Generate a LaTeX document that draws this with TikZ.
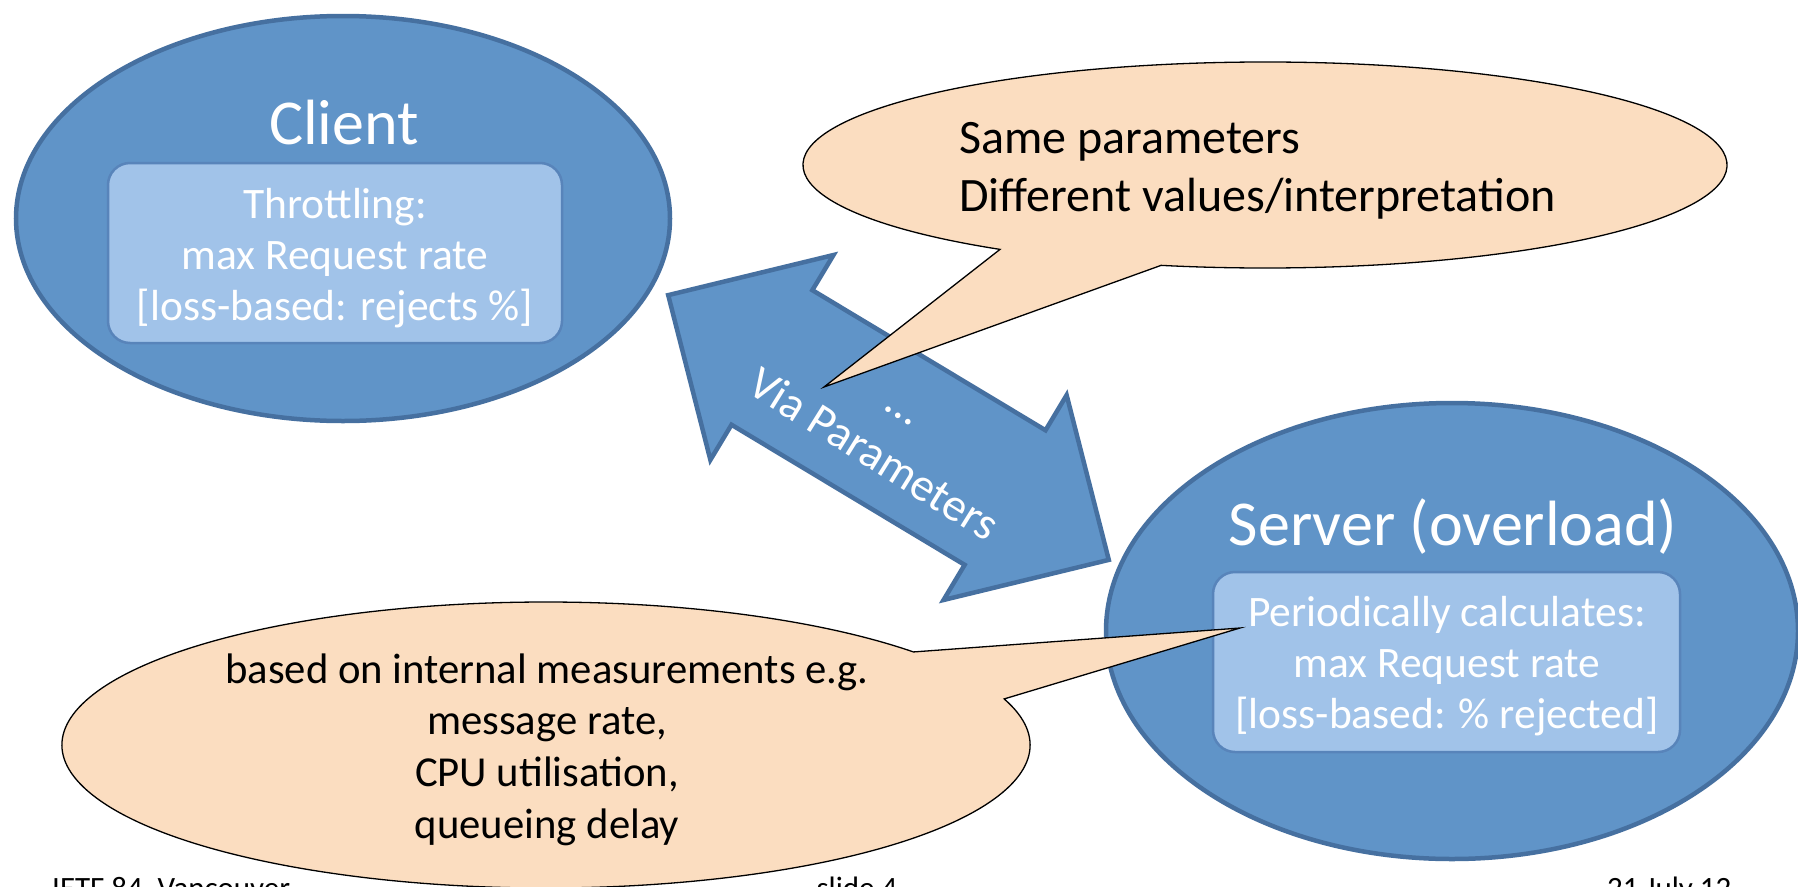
\documentclass[tikz,border=0pt]{standalone}
\usepackage{fontspec}
\setmainfont{Carlito}
\usetikzlibrary{shapes.geometric}
\definecolor{bluefill}{RGB}{96,148,200}
\definecolor{blueline}{RGB}{70,112,160}
\definecolor{boxfill}{RGB}{161,195,233}
\definecolor{boxline}{RGB}{88,132,186}
\definecolor{peach}{RGB}{251,221,192}
\begin{document}
\begin{tikzpicture}[x=1pt,y=-1pt,
  blueell/.style={ellipse, draw=blueline, fill=bluefill, line width=4.5pt, inner sep=0pt},
  innerbox/.style={rectangle, rounded corners=22pt, draw=boxline, fill=boxfill, line width=2.5pt, inner sep=0pt},
  wtext/.style={text=white, inner sep=0pt},
  titletext/.style={wtext, font=\fontsize{64}{76}\selectfont},
  boxtext/.style={wtext, align=center, font=\fontsize{43.5}{51}\selectfont},
  callout/.style={draw=black, fill=peach, line width=1.3pt, line join=miter},
  ctext/.style={text=black, inner sep=0pt},
  foot/.style={text=black, inner sep=0pt, font=\fontsize{31}{37}\selectfont},
  arrowshape/.style={draw=blueline, fill=bluefill, line width=4.5pt, line join=miter}
]
\fill[white] (0,0) rectangle (1798,886);
\useasboundingbox (0,0) rectangle (1798,886);

% main ellipses
\node[blueell, minimum width=654pt, minimum height=405pt] (client) at (343,218.5) {};
\node[blueell, minimum width=692pt, minimum height=456pt] (server) at (1452,631) {};
\node[innerbox, minimum width=454pt, minimum height=180pt] (cbox) at (335,253) {};
\node[innerbox, minimum width=467pt, minimum height=180pt] (sbox) at (1446.5,662) {};
\node[titletext, anchor=base] (ctitle) at (344,144) {Client};
\node[titletext, anchor=base] (stitle) at (1453,545) {Server (overload)};
\node[boxtext] (ctext) at (335,258.8) {\strut Throttling:\\\strut max Request rate\\\strut [loss-based: rejects \%]};
\node[boxtext] (stext) at (1447,667.4) {\strut Periodically calculates:\\\strut max Request rate\\\strut [loss-based: \% rejected]};

% double arrow
\begin{scope}[shift={(888.5,427.5)}, rotate=-31]
\draw[arrowshape] (-257,0) -- (-136,-119.5) -- (-136,-78.5) -- (136,-78.5) -- (136,-119.5) -- (257,0) -- (136,119.5) -- (136,78.5) -- (-136,78.5) -- (-136,119.5) -- cycle;
\end{scope}
\node[wtext, rotate=-32, align=center, font=\fontsize{46.5}{58}\selectfont] (via) at (887.7,432.4) {\strut …\\\strut Via Parameters};

% callouts
\coordinate (ttip) at (824,387);
\draw[callout] (1265,165) ++(125:462 and 103) arc[start angle=125, end angle=463, x radius=462, y radius=103] -- (ttip) -- cycle;
\node[ctext, anchor=west, align=left, font=\fontsize{48}{58}\selectfont] (ttext) at (959,170.4) {\strut Same parameters\\\strut Different values/interpretation};

\coordinate (btip) at (1240,628);
\draw[callout] (546,745) ++(-18.8:484 and 143) arc[start angle=-18.8, end angle=319.4, x radius=484, y radius=143] -- (btip) -- cycle;
\node[ctext, align=center, font=\fontsize{42.7}{51.7}\selectfont] (btext) at (547,750.2) {\strut based on internal measurements e.g.\\\strut message rate,\\\strut CPU utilisation,\\\strut queueing delay};

% footer
\node[foot, anchor=base west] (f1) at (52,898) {IETF 84, Vancouver};
\node[foot, anchor=base] (f2) at (857,898) {slide 4};
\node[foot, anchor=base west] (f3) at (1607,898) {21 July 12};
\end{tikzpicture}
\end{document}
